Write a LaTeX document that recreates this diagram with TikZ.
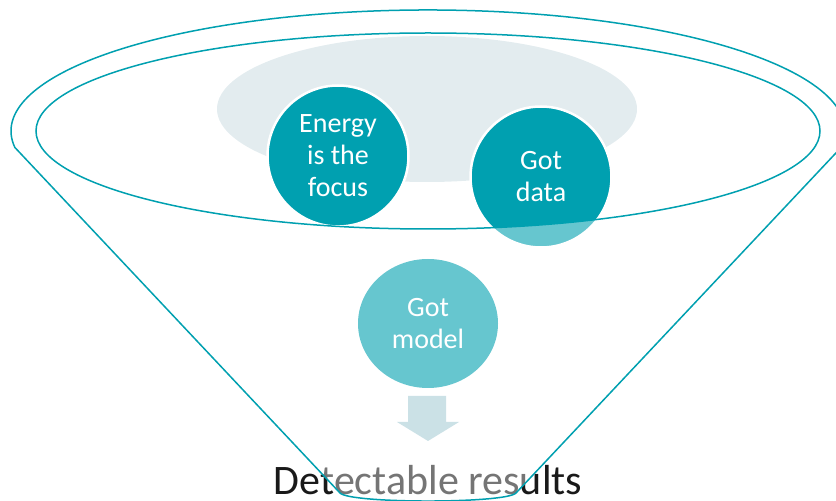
\documentclass[tikz,border=0pt]{standalone}
\usepackage{fontspec}
\setmainfont{Carlito}
\usetikzlibrary{shapes.geometric}
\definecolor{funnelteal}{HTML}{00A0B0}
\definecolor{mistgray}{HTML}{E3ECEF}
\definecolor{palearrow}{HTML}{CBE1E6}
\begin{document}
\begin{tikzpicture}[x=1pt, y=1pt,
          ball/.style={circle, fill=funnelteal, draw=white, line width=2.5pt, minimum size=141pt,
            inner sep=0pt, text=white, align=center, font=\fontsize{28}{32}\selectfont},
          rim/.style={draw=funnelteal, line width=1.5pt}]
          \useasboundingbox (0,0) rectangle (836,501);
          \fill[mistgray] (427,392) ellipse[x radius=210pt, y radius=73pt];
          \node[ball] (1) at (338,345) {Energy\\is the\\focus};
          \node[ball] (2) at (541,324) {Got\\data};
          \node[ball, ellipse, draw=none, minimum width=140pt, minimum height=129pt] (3) at (428,177.5) {Got\\model};
          \node[anchor=base, inner sep=0pt, font=\fontsize{42}{48}\selectfont, text=black!90] (4) at (428,6) {Detectable results};
          \coordinate (lc) at (15,353.4);
          \coordinate (rc) at (841,353.4);
          \fill[white, fill opacity=0.4, even odd rule]
            (lc) -- (340,8) .. controls (350,-2.7) and (506,-2.7) .. (516,8) -- (rc)
            arc[start angle=-7.9, end angle=187.9, x radius=417pt, y radius=121pt] -- cycle
            (428,370) ellipse[x radius=392pt, y radius=98pt];
          \fill[palearrow] (408,105) -- (446,105) -- (446,79) -- (459,79) -- (428,60) -- (397,79) -- (408,79) -- cycle;
          \draw[rim] (lc) -- (340,8) .. controls (350,-2.7) and (506,-2.7) .. (516,8) -- (rc)
            arc[start angle=-7.9, end angle=187.9, x radius=417pt, y radius=121pt] -- cycle;
          \draw[rim] (428,370) ellipse[x radius=392pt, y radius=98pt];
        \end{tikzpicture}
\end{document}
